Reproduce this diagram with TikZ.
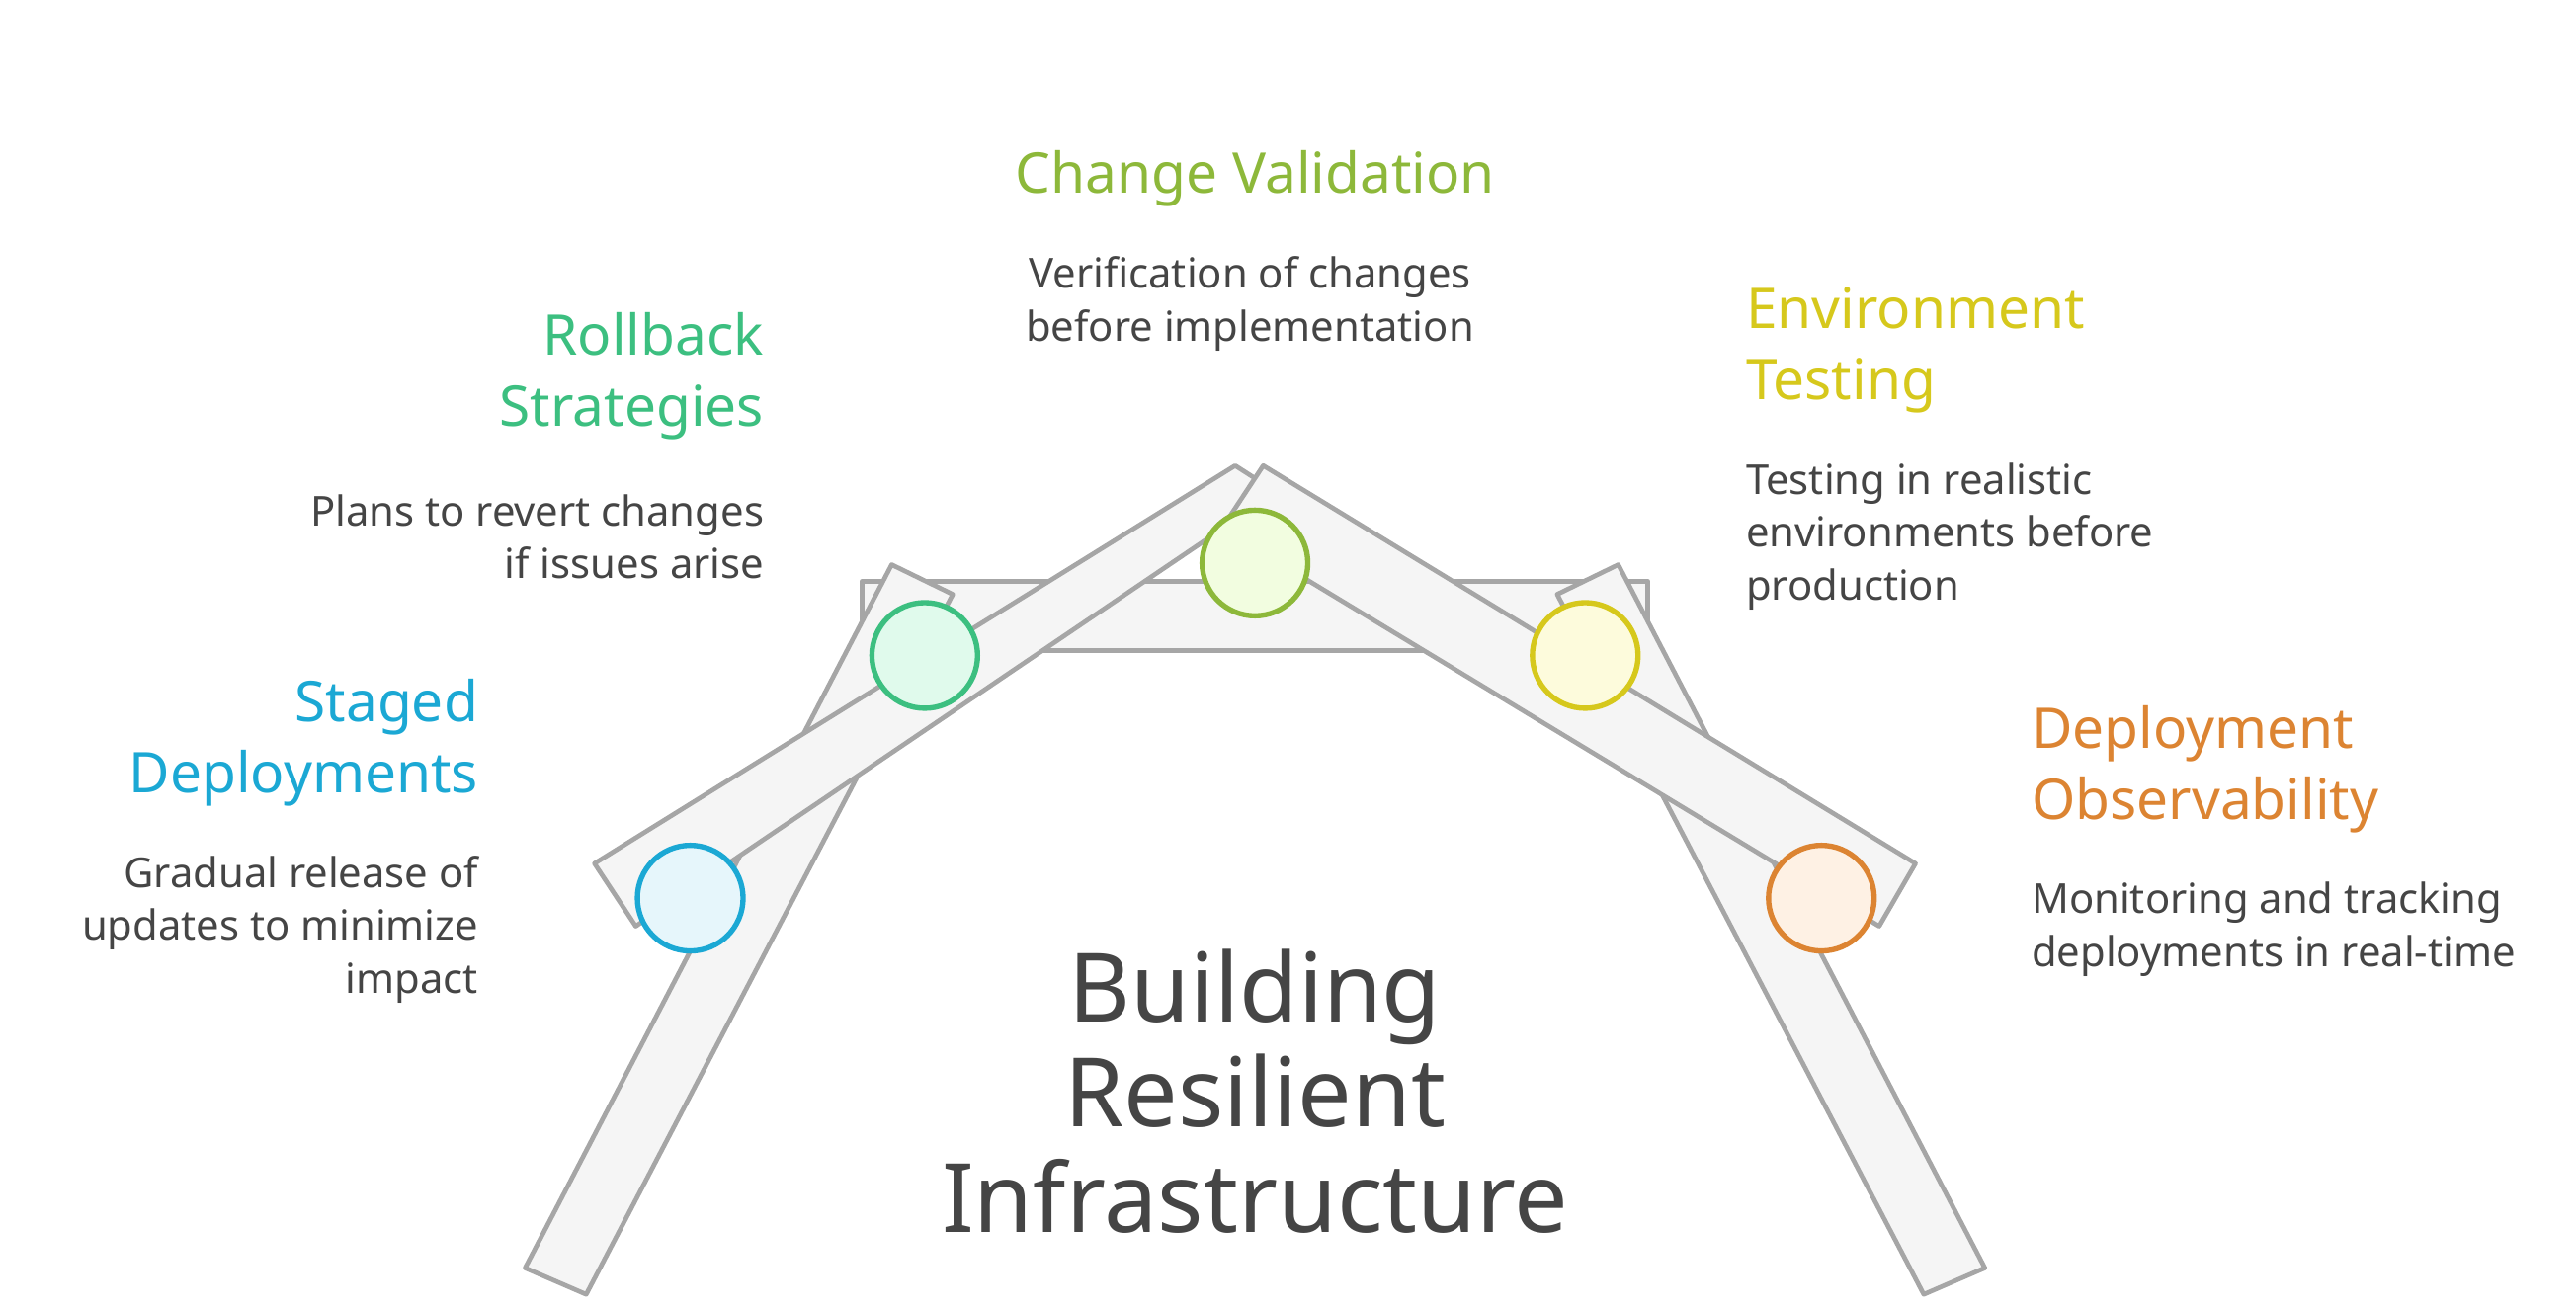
\documentclass[tikz,border=0pt]{standalone}
\usepackage{fontspec}
\setmainfont{Noto Sans}
\begin{document}
\begin{tikzpicture}[x=0.5pt,y=-0.5pt,
  beam/.style={draw=black!35,fill=black!4,line width=1.4pt,line join=round},
  dot/.style={circle,minimum size=32pt,line width=1.6pt},
  head/.style={font=\fontsize{17}{21.5}\selectfont,inner sep=0pt},
  desc/.style={font=\fontsize{12.5}{16}\selectfont,text=black!73,inner sep=0pt},
  title/.style={font=\bfseries\fontsize{29}{32}\selectfont,text=black!73,align=center,inner sep=0pt}]
\definecolor{cB}{HTML}{1BA8D4}\definecolor{fB}{HTML}{E6F6FB}
\definecolor{cG}{HTML}{3CBF80}\definecolor{fG}{HTML}{E0FAEC}
\definecolor{cL}{HTML}{8DB83A}\definecolor{fL}{HTML}{F2FDE0}
\definecolor{cY}{HTML}{D6C81C}\definecolor{fY}{HTML}{FDFBDC}
\definecolor{cO}{HTML}{DC8432}\definecolor{fO}{HTML}{FEF1E4}
\useasboundingbox (0,0) rectangle (1560,793);
% structure
\draw[beam] (522,352) rectangle (998,394);
\draw[beam] (540,342) -- (577,360) -- (355,784) -- (318,768) -- cycle;
\draw[beam] (980,342) -- (943,360) -- (1165,784) -- (1202,768) -- cycle;
\draw[beam] (360,523) -- (748,282) -- (773,298) -- (385,561) -- cycle;
\draw[beam] (765,282) -- (1160,523) -- (1138,561) -- (740,320) -- cycle;
% dots
\node[dot,draw=cB,fill=fB] (d1) at (418,544) {};
\node[dot,draw=cG,fill=fG] (d2) at (560,397) {};
\node[dot,draw=cL,fill=fL] (d3) at (760,341) {};
\node[dot,draw=cY,fill=fY] (d4) at (960,397) {};
\node[dot,draw=cO,fill=fO] (d5) at (1103,544) {};
% texts
\node[head,text=cL] (h3) at (760,108) {Change Validation};
\node[desc,align=center] (t3) at (757,184) {Verification of changes\\before implementation};
\node[head,text=cG,align=right,anchor=east] (h2) at (463,228) {Rollback\\Strategies};
\node[desc,align=right,anchor=east] (t2) at (463,325) {Plans to revert changes\\if issues arise};
\node[head,text=cB,align=right,anchor=east] (h1) at (290,450) {Staged\\Deployments};
\node[desc,align=right,anchor=east] (t1) at (290,563) {Gradual release of\\updates to minimize\\impact};
\node[head,text=cY,align=left,anchor=west] (h4) at (1057,212) {Environment\\Testing};
\node[desc,align=left,anchor=west] (t4) at (1057,325) {Testing in realistic\\environments before\\production};
\node[head,text=cO,align=left,anchor=west] (h5) at (1230,466) {Deployment\\Observability};
\node[desc,align=left,anchor=west] (t5) at (1230,563) {Monitoring and tracking\\deployments in real-time};
\node[title] (T) at (760,661) {Building\\Resilient\\Infrastructure};
\end{tikzpicture}
\end{document}
